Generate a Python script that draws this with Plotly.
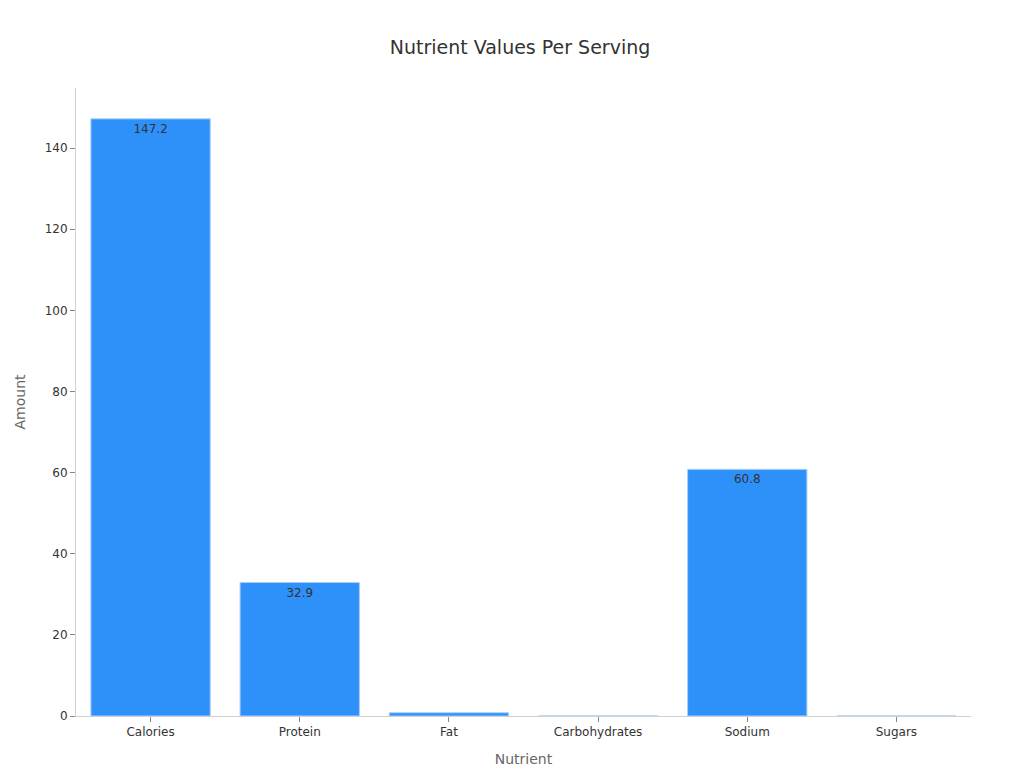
import plotly.graph_objects as go

nutrients = ["Calories", "Protein", "Fat", "Carbohydrates", "Sodium", "Sugars"]
amounts = [147.2, 32.9, 0.8, 0.0, 60.8, 0.0]
labels = ["147.2", "32.9", "0.8", "", "60.8", ""]

fig = go.Figure()
fig.add_trace(go.Bar(
    x=nutrients,
    y=amounts,
    text=labels,
    textposition="inside",
    insidetextanchor="end",
    textfont=dict(size=12, color="#333333"),
    marker=dict(color="#2E91FA", line=dict(color="#A9CFF8", width=1)),
    width=0.8,
))

fig.update_layout(
    width=1024, height=768,
    font=dict(family="DejaVu Sans", color="#333333"),
    title=dict(text="Nutrient Values Per Serving", x=0.5, y=0.957, font=dict(size=19)),
    plot_bgcolor="white", paper_bgcolor="white",
    margin=dict(l=68, r=61, t=80, b=60),
    uniformtext=dict(minsize=12, mode="hide"),
    showlegend=False,
    xaxis=dict(title=dict(text="Nutrient", font=dict(size=14, color="#666666")),
               showline=True, linecolor="#D0D0D0", ticks="outside", ticklen=5,
               tickcolor="#888888", tickfont=dict(size=12)),
    yaxis=dict(title=dict(text="Amount", font=dict(size=14, color="#666666")),
               range=[0, 154.8], dtick=20, showgrid=False, zeroline=False,
               showline=True, linecolor="#D0D0D0", ticks="outside", ticklen=5,
               tickcolor="#888888", tickfont=dict(size=12)),
)

fig.write_html("out.html")
